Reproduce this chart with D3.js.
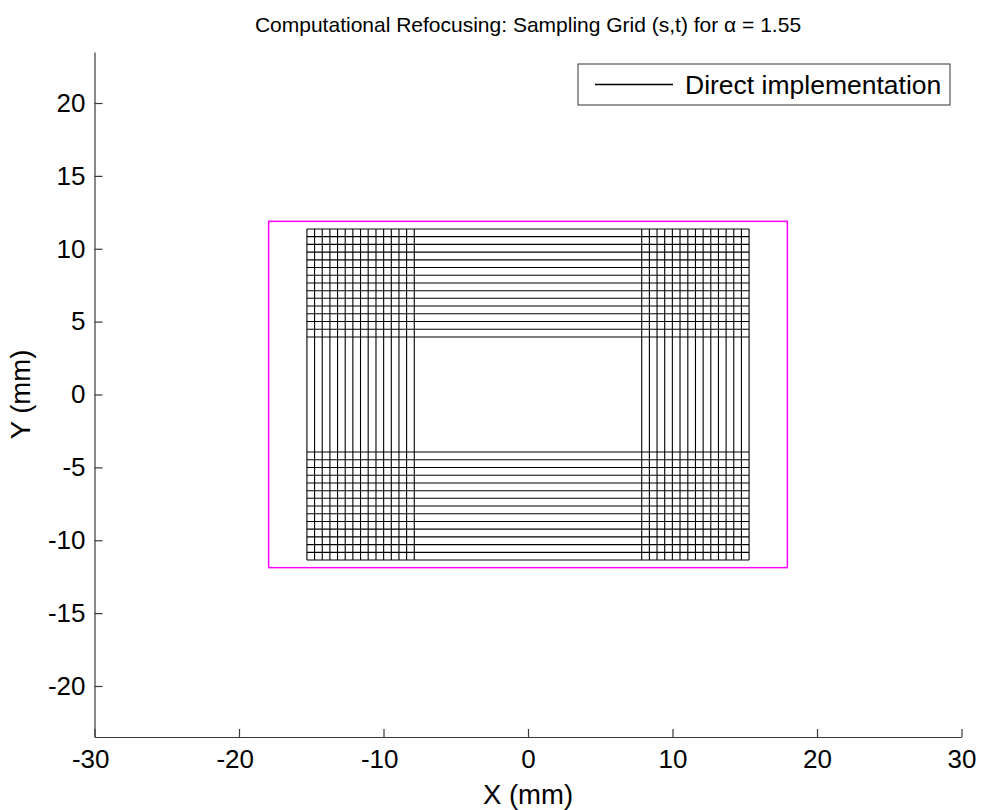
<!DOCTYPE html>
<html>
<head>
<meta charset="utf-8">
<script src="https://cdn.jsdelivr.net/npm/d3@7"></script>
<style>
  html, body { margin: 0; padding: 0; background: #fff; }
  svg { display: block; font-family: "Liberation Sans", Arial, Helvetica, sans-serif; }
</style>
</head>
<body>
<svg id="chart" width="982" height="810"></svg>
<script>
// ---- data ----
const titleText = "Computational Refocusing: Sampling Grid (s,t) for \u03B1 = 1.55";
const xLabel = "X (mm)";
const yLabel = "Y (mm)";
const legendLabel = "Direct implementation";
const xDomain = [-30, 30];
const yDomain = [-23.5, 23.5];
const xTicks = [-30, -20, -10, 0, 10, 20, 30];
const yTicks = [-20, -15, -10, -5, 0, 5, 10, 15, 20];
// vertical grid lines (s positions, mm)
const sLeft  = [-15.30, -14.77, -14.24, -13.71, -13.18, -12.65, -12.12, -11.59, -11.06, -10.52, -9.99, -9.46, -8.93, -8.40, -7.87];
const sRight = [7.87, 8.40, 8.93, 9.46, 9.99, 10.52, 11.06, 11.59, 12.12, 12.65, 13.18, 13.71, 14.24, 14.77, 15.30];
// horizontal grid lines (t positions, mm)
const tBottom = [-11.36, -10.83, -10.30, -9.77, -9.24, -8.71, -8.18, -7.65, -7.12, -6.60, -6.07, -5.54, -5.01, -4.48, -3.95];
const tTop    = [3.95, 4.48, 5.01, 5.54, 6.07, 6.60, 7.12, 7.65, 8.18, 8.71, 9.24, 9.77, 10.30, 10.83, 11.36];
// sensor / aperture boundary (mm)
const boundX = [-17.95, 17.95];
const boundY = [-11.88, 11.88];

// ---- layout ----
const svg = d3.select("#chart");
const mLeft = 94.5, mRight = 961.5, mTop = 52, mBottom = 737;
const x = d3.scaleLinear().domain(xDomain).range([mLeft, mRight]);
const y = d3.scaleLinear().domain(yDomain).range([mBottom, mTop]);
const axisColor = "#3a3a3a";
const tickFont = 26;
const fmt = d => String(d);

const sAll = sLeft.concat(sRight);
const tAll = tBottom.concat(tTop);
const sExt = d3.extent(sAll);
const tExt = d3.extent(tAll);

const g = svg.append("g");

// vertical lines
g.selectAll("line.v").data(sAll).join("line")
  .attr("class", "v")
  .attr("x1", d => x(d)).attr("x2", d => x(d))
  .attr("y1", y(tExt[0])).attr("y2", y(tExt[1]))
  .attr("stroke", "#000").attr("stroke-width", 1.1);
// horizontal lines
g.selectAll("line.h").data(tAll).join("line")
  .attr("class", "h")
  .attr("y1", d => y(d)).attr("y2", d => y(d))
  .attr("x1", x(sExt[0])).attr("x2", x(sExt[1]))
  .attr("stroke", "#000").attr("stroke-width", 1.1);

// magenta boundary
g.append("rect")
  .attr("x", x(boundX[0])).attr("y", y(boundY[1]))
  .attr("width", x(boundX[1]) - x(boundX[0]))
  .attr("height", y(boundY[0]) - y(boundY[1]))
  .attr("fill", "none").attr("stroke", "#ff00ff").attr("stroke-width", 1.5);

// axes
const xAxis = d3.axisBottom(x).tickValues(xTicks).tickSizeInner(-8).tickSizeOuter(0).tickPadding(13).tickFormat(fmt);
const yAxis = d3.axisLeft(y).tickValues(yTicks).tickSizeInner(-8).tickSizeOuter(0).tickPadding(9).tickFormat(fmt);

const gx = svg.append("g").attr("transform", `translate(0,${mBottom})`).call(xAxis);
const gy = svg.append("g").attr("transform", `translate(${mLeft},0)`).call(yAxis);
[gx, gy].forEach(a => {
  a.select(".domain").attr("stroke", axisColor).attr("stroke-width", 1.2);
  a.selectAll(".tick line").attr("stroke", axisColor).attr("stroke-width", 1.2);
  a.selectAll(".tick text").attr("fill", "#000").style("font-size", tickFont + "px")
    .style("font-family", '"Liberation Sans", Arial, sans-serif');
});
gx.selectAll(".tick text").attr("dy", "0.71em")
  .attr("dx", d => d < 0 ? "-0.1665em" : 0);

// title
svg.append("text").attr("x", x(0)).attr("y", 32).attr("text-anchor", "middle")
  .style("font-size", "21px").attr("fill", "#000").text(titleText);
// axis labels
svg.append("text").attr("x", x(0)).attr("y", 804).attr("text-anchor", "middle")
  .style("font-size", "27.5px").attr("fill", "#000").text(xLabel);
svg.append("text").attr("transform", `translate(30,${y(0)}) rotate(-90)`).attr("text-anchor", "middle")
  .style("font-size", "27.5px").attr("fill", "#000").text(yLabel);

// legend
const lg = svg.append("g");
lg.append("rect").attr("x", 578).attr("y", 64).attr("width", 372).attr("height", 41)
  .attr("fill", "#fff").attr("stroke", "#333").attr("stroke-width", 1);
lg.append("line").attr("x1", 595).attr("x2", 673).attr("y1", 84.5).attr("y2", 84.5)
  .attr("stroke", "#000").attr("stroke-width", 1.5);
lg.append("text").attr("x", 685).attr("y", 84.5).attr("dy", "0.35em")
  .style("font-size", "26.5px").attr("fill", "#000").text(legendLabel);
</script>
</body>
</html>
